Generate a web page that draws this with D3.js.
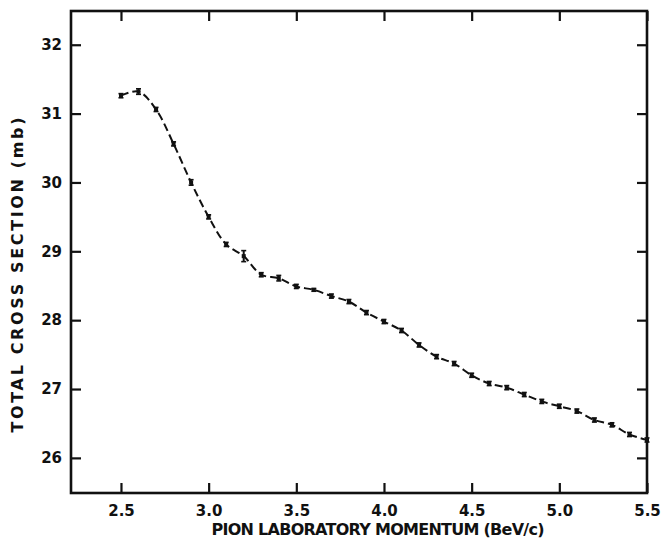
<!DOCTYPE html>
<html>
<head>
<meta charset="utf-8">
<script src="https://cdn.jsdelivr.net/npm/d3@7"></script>
<style>
  html, body { margin: 0; padding: 0; background: #fff; }
  svg { display: block; }
</style>
</head>
<body>
<div id="chart"></div>
<script>
// pion laboratory momentum (BeV/c)
const momentum = [2.5, 2.6, 2.7, 2.8, 2.9, 3.0, 3.1, 3.2, 3.3, 3.4, 3.5, 3.6, 3.7, 3.8, 3.9, 4.0,
                  4.1, 4.2, 4.3, 4.4, 4.5, 4.6, 4.7, 4.8, 4.9, 5.0, 5.1, 5.2, 5.3, 5.4, 5.5];
// total cross section (mb)
const sigma = [31.26, 31.32, 31.06, 30.56, 30.00, 29.50, 29.10, 28.93, 28.66, 28.61, 28.49, 28.44,
               28.35, 28.27, 28.11, 27.98, 27.85, 27.64, 27.47, 27.37, 27.20, 27.08, 27.02, 26.92,
               26.82, 26.75, 26.68, 26.55, 26.48, 26.34, 26.26];
// error bars (mb)
const sigmaErr = [0.03, 0.04, 0.03, 0.03, 0.04, 0.03, 0.03, 0.08, 0.03, 0.04, 0.03, 0.02,
                  0.03, 0.03, 0.03, 0.03, 0.03, 0.03, 0.03, 0.03, 0.03, 0.03, 0.03, 0.03,
                  0.03, 0.03, 0.03, 0.03, 0.03, 0.03, 0.03];

const xTicks = [2.5, 3.0, 3.5, 4.0, 4.5, 5.0, 5.5];
const yTicks = [26, 27, 28, 29, 30, 31, 32];

const width = 664, height = 542;
const margin = {top: 11, right: 17, bottom: 49, left: 71};

const data = momentum.map((p, i) => ({p: p, s: sigma[i], e: sigmaErr[i]}));

const x = d3.scaleLinear()
    .domain([2.215, 5.5])
    .range([margin.left, width - margin.right]);

const y = d3.scaleLinear()
    .domain([25.49, 32.49])
    .range([height - margin.bottom, margin.top]);

const font = "'DejaVu Sans', sans-serif";

const svg = d3.select("#chart").append("svg")
    .attr("width", width)
    .attr("height", height);

// ticks all point inward
const xAxis = g => g.attr("transform", `translate(0,${height - margin.bottom})`)
    .call(d3.axisBottom(x).tickValues(xTicks).tickSize(-10).tickPadding(12).tickFormat(d3.format(".1f")))
    .call(g => g.select(".domain").remove());

const xAxisTop = g => g.attr("transform", `translate(0,${margin.top})`)
    .call(d3.axisTop(x).tickValues(xTicks).tickSize(-10).tickFormat(""))
    .call(g => g.select(".domain").remove());

const yAxis = g => g.attr("transform", `translate(${margin.left},0)`)
    .call(d3.axisLeft(y).tickValues(yTicks).tickSize(-10).tickPadding(9).tickFormat(d3.format("d")))
    .call(g => g.select(".domain").remove());

const yAxisRight = g => g.attr("transform", `translate(${width - margin.right},0)`)
    .call(d3.axisRight(y).tickValues(yTicks).tickSize(-10).tickFormat(""))
    .call(g => g.select(".domain").remove());

[xAxis, xAxisTop, yAxis, yAxisRight].forEach(a => {
    svg.append("g").call(a)
        .call(g => g.selectAll("line").attr("stroke", "#111").attr("stroke-width", 2.2))
        .call(g => g.selectAll("text")
            .attr("fill", "#111")
            .attr("font-family", font)
            .attr("font-weight", "bold")
            .attr("font-size", 15));
});

// frame
svg.append("rect")
    .attr("x", x(2.215))
    .attr("y", y(32.49))
    .attr("width", x(5.5) - x(2.215))
    .attr("height", y(25.49) - y(32.49))
    .attr("fill", "none")
    .attr("stroke", "#111")
    .attr("stroke-width", 2.6);

// dashed curve through the points
const line = d3.line()
    .x(d => x(d.p))
    .y(d => y(d.s))
    .curve(d3.curveCatmullRom.alpha(0.5));

svg.append("path")
    .datum(data)
    .attr("d", line)
    .attr("fill", "none")
    .attr("stroke", "#111")
    .attr("stroke-width", 2)
    .attr("stroke-dasharray", "8,4");

// points with error bars
const pts = svg.append("g").attr("stroke", "#111").attr("fill", "#111");

pts.selectAll("line.err")
    .data(data)
    .join("line")
    .attr("class", "err")
    .attr("x1", d => x(d.p)).attr("x2", d => x(d.p))
    .attr("y1", d => y(d.s + d.e)).attr("y2", d => y(d.s - d.e))
    .attr("stroke-width", 2);

pts.selectAll("line.capt")
    .data(data)
    .join("line")
    .attr("class", "capt")
    .attr("x1", d => x(d.p) - 2.5).attr("x2", d => x(d.p) + 2.5)
    .attr("y1", d => y(d.s + d.e)).attr("y2", d => y(d.s + d.e))
    .attr("stroke-width", 1.6);

pts.selectAll("line.capb")
    .data(data)
    .join("line")
    .attr("class", "capb")
    .attr("x1", d => x(d.p) - 2.5).attr("x2", d => x(d.p) + 2.5)
    .attr("y1", d => y(d.s - d.e)).attr("y2", d => y(d.s - d.e))
    .attr("stroke-width", 1.6);

pts.selectAll("rect")
    .data(data)
    .join("rect")
    .attr("x", d => x(d.p) - 2)
    .attr("y", d => y(d.s) - 2)
    .attr("width", 4)
    .attr("height", 4)
    .attr("stroke", "none");

// axis titles
svg.append("text")
    .attr("x", 378)
    .attr("y", 535)
    .attr("text-anchor", "middle")
    .attr("font-family", font)
    .attr("font-weight", "bold")
    .attr("font-size", 16)
    .attr("fill", "#111")
    .attr("textLength", 333)
    .attr("lengthAdjust", "spacing")
    .text("PION LABORATORY MOMENTUM (BeV/c)");

svg.append("text")
    .attr("transform", "translate(23,275) rotate(-90)")
    .attr("text-anchor", "middle")
    .attr("font-family", font)
    .attr("font-weight", "bold")
    .attr("font-size", 16)
    .attr("fill", "#111")
    .attr("textLength", 315)
    .attr("lengthAdjust", "spacing")
    .text("TOTAL CROSS SECTION (mb)");
</script>
</body>
</html>
